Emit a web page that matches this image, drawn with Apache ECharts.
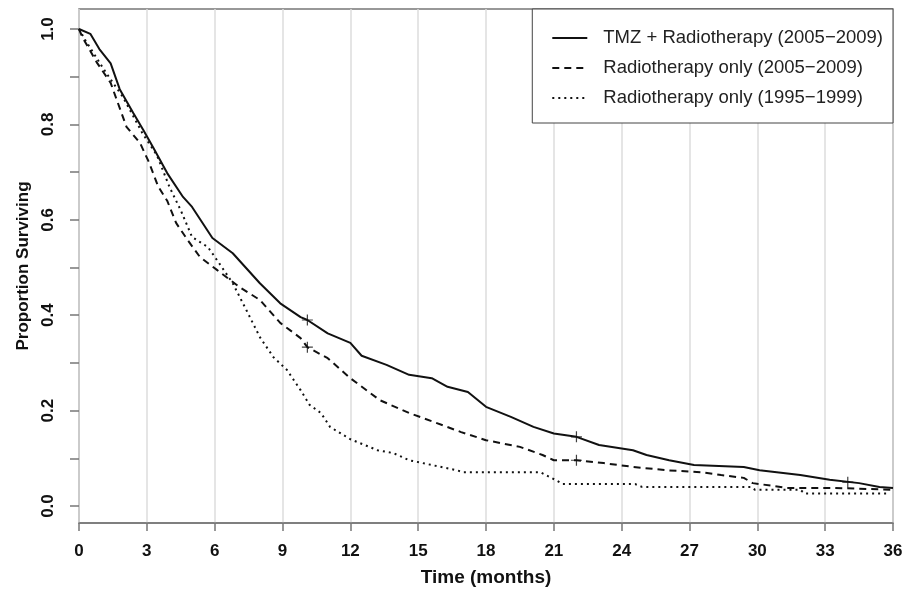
<!DOCTYPE html>
<html>
<head>
<meta charset="utf-8">
<script src="https://cdn.jsdelivr.net/npm/echarts@6/dist/echarts.min.js"></script>
<style>
  html, body { margin: 0; padding: 0; background: #fff; }
  #chart { width: 908px; height: 589px; }
</style>
</head>
<body>
<div id="chart"></div>
<script>
// Kaplan-Meier curves, [month, proportion surviving]
var tmzCurve = [
  [0, 1.0], [0.5, 0.99], [0.9, 0.958], [1.4, 0.928], [1.8, 0.874], [2.4, 0.824],
  [2.85, 0.788], [3.3, 0.75], [3.9, 0.698], [4.6, 0.648], [5.0, 0.627], [5.9, 0.562],
  [6.8, 0.53], [8.0, 0.467], [8.9, 0.425], [9.8, 0.396], [10.1, 0.39], [11.0, 0.362],
  [12.0, 0.342], [12.5, 0.315], [13.6, 0.296], [14.6, 0.275], [15.6, 0.268], [16.3, 0.25],
  [17.2, 0.239], [18.0, 0.208], [19.1, 0.187], [20.1, 0.166], [21.0, 0.152], [22.0, 0.145],
  [23.0, 0.128], [24.5, 0.117], [25.1, 0.107], [26.1, 0.096], [27.2, 0.086], [29.4, 0.082],
  [30.1, 0.075], [31.9, 0.065], [33.2, 0.055], [34.5, 0.048], [35.4, 0.04], [36, 0.038]
];
var rt0509Curve = [
  [0, 1.0], [0.15, 0.983], [0.8, 0.929], [1.4, 0.887], [2.1, 0.795], [2.7, 0.761],
  [3.1, 0.72], [3.5, 0.67], [3.9, 0.64], [4.3, 0.593], [4.8, 0.558], [5.35, 0.522],
  [6.1, 0.495], [7.1, 0.459], [8.0, 0.432], [8.9, 0.384], [9.8, 0.352], [10.1, 0.333],
  [11.0, 0.31], [12.0, 0.268], [13.3, 0.222], [14.6, 0.195], [15.7, 0.176], [16.9, 0.155],
  [18.0, 0.138], [19.5, 0.124], [20.5, 0.107], [21.0, 0.096], [22.0, 0.096], [23.2, 0.09],
  [24.5, 0.082], [26.0, 0.075], [27.5, 0.071], [28.4, 0.065], [29.4, 0.059], [29.8, 0.048],
  [31.3, 0.038], [33.3, 0.038], [36, 0.034]
];
var rt9599Curve = [
  [0, 1.0], [0.3, 0.975], [1.2, 0.908], [1.95, 0.857], [2.8, 0.782], [3.45, 0.735],
  [4.0, 0.669], [4.5, 0.62], [5.0, 0.564], [5.7, 0.543], [6.2, 0.509], [6.8, 0.467],
  [7.4, 0.411], [8.0, 0.354], [8.6, 0.312], [9.2, 0.285], [9.8, 0.243], [10.2, 0.212],
  [10.7, 0.195], [11.1, 0.166], [12.0, 0.14], [13.2, 0.117], [13.9, 0.111], [14.6, 0.096],
  [16.7, 0.075], [17.0, 0.071], [20.4, 0.071], [21.1, 0.054], [21.4, 0.046], [24.6, 0.046],
  [24.9, 0.04], [29.7, 0.04], [29.9, 0.034], [31.9, 0.034], [32.1, 0.026], [35.7, 0.026]
];
// censored observations (+ marks)
var censorMarks = [[10.1, 0.39], [22.0, 0.145], [34.0, 0.05], [10.1, 0.333], [22.0, 0.096]];

var seriesNames = ['TMZ + Radiotherapy (2005\u22122009)', 'Radiotherapy only (2005\u22122009)', 'Radiotherapy only (1995\u22121999)'];
var xTicks = [0, 3, 6, 9, 12, 15, 18, 21, 24, 27, 30, 33, 36];
var yLabels = [0, 0.2, 0.4, 0.6, 0.8, 1.0];
var yTicks = [0, 0.1, 0.2, 0.3, 0.4, 0.5, 0.6, 0.7, 0.8, 0.9, 1.0];

var FONT = 'Liberation Sans, Arial, sans-serif';
var INK = '#111';
var AXIS = '#777';

var chart = echarts.init(document.getElementById('chart'));

function kmLine(name, data, type) {
  return {
    name: name,
    type: 'line',
    data: data,
    symbol: 'none',
    smooth: false,
    animation: false,
    lineStyle: { color: INK, width: 2, type: type, cap: 'butt' },
    itemStyle: { color: INK },
    z: 3
  };
}

chart.setOption({
  backgroundColor: '#fff',
  animation: false,
  grid: {
    left: 79, right: 15, top: 9, bottom: 66,
    outerBoundsMode: 'none',
    show: true, borderColor: AXIS, borderWidth: 1.5, backgroundColor: 'transparent'
  },
  legend: {
    data: seriesNames,
    orient: 'vertical',
    right: 15,
    top: 9,
    backgroundColor: '#fff',
    borderColor: '#444',
    borderWidth: 1,
    padding: [19, 10, 15, 19],
    itemWidth: 35,
    itemHeight: 20,
    itemGap: 10,
    selectedMode: false,
    itemStyle: { opacity: 0 },
    textStyle: { fontFamily: FONT, fontSize: 18.5, color: '#222', lineHeight: 20, padding: [0, 0, 0, 11] }
  },
  xAxis: {
    type: 'value',
    min: 0, max: 36, interval: 3,
    name: 'Time (months)',
    nameLocation: 'middle',
    nameGap: 45,
    nameTextStyle: { fontFamily: FONT, fontSize: 19, fontWeight: 'bold', color: INK },
    axisLine: { show: true, onZero: false, lineStyle: { color: AXIS, width: 1.5 } },
    axisTick: { show: true, length: 8, lineStyle: { color: AXIS, width: 1.5 } },
    axisLabel: {
      fontFamily: FONT, fontSize: 17, fontWeight: 'bold', color: INK, margin: 20,
      customValues: xTicks, showMinLabel: true, showMaxLabel: true
    },
    splitLine: { show: true, lineStyle: { color: '#dcdcdc', width: 1.5 } }
  },
  yAxis: {
    type: 'value',
    min: -0.0356, max: 1.042,
    name: 'Proportion Surviving',
    nameLocation: 'middle',
    nameRotate: 90,
    nameGap: 45,
    nameTextStyle: { fontFamily: FONT, fontSize: 17, fontWeight: 'bold', color: INK },
    axisLine: { show: false, onZero: false },
    axisTick: { show: true, length: 9, customValues: yTicks, lineStyle: { color: AXIS, width: 1.5 } },
    axisLabel: {
      rotate: 90, fontFamily: FONT, fontSize: 17, fontWeight: 'bold', color: INK, margin: 22,
      customValues: yLabels,
      formatter: function (v) { return v.toFixed(1); }
    },
    splitLine: { show: false }
  },
  series: [
    kmLine(seriesNames[0], tmzCurve, 'solid'),
    kmLine(seriesNames[1], rt0509Curve, [7, 5]),
    kmLine(seriesNames[2], rt9599Curve, [2, 4]),
    {
      name: 'censored',
      type: 'scatter',
      data: censorMarks,
      symbol: 'path://M0,5L10,5M5,0L5,10',
      symbolSize: 11,
      itemStyle: { color: 'none', borderColor: INK, borderWidth: 1.2 },
      z: 4
    }
  ]
});
</script>
</body>
</html>
